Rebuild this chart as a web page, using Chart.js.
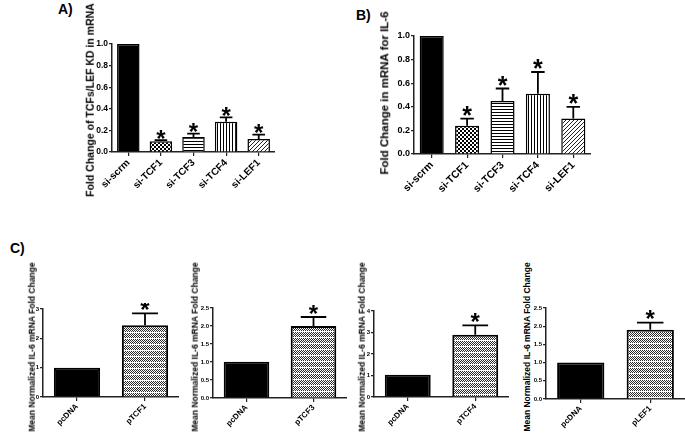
<!DOCTYPE html>
<html><head><meta charset="utf-8">
<script src="https://cdn.jsdelivr.net/npm/chart.js@4.4.0/dist/chart.umd.min.js"></script>
<style>
html,body{margin:0;padding:0;background:#fff;width:685px;height:443px;overflow:hidden;position:relative;font-family:"Liberation Sans",Arial,sans-serif;}
.lbl{position:absolute;font-weight:bold;font-size:14px;line-height:14px;color:#000;}
.yt{position:absolute;transform:translate(-50%,-50%) rotate(-90deg);white-space:nowrap;font-weight:bold;line-height:1;color:#000;}
</style></head><body>
<div class="lbl" style="left:58px;top:2px">A)</div>
<div class="lbl" style="left:356px;top:8px">B)</div>
<div class="lbl" style="left:10px;top:241px">C)</div>
<script>
// ---------- DATA ----------
const catsA = ['si-scrm','si-TCF1','si-TCF3','si-TCF4','si-LEF1'];
const valsA = [1.0, 0.10, 0.14, 0.28, 0.12];
const errA  = [0, 0.01, 0.03, 0.04, 0.04];
const starA = [false, true, true, true, true];

const catsB = ['si-scrm','si-TCF1','si-TCF3','si-TCF4','si-LEF1'];
const valsB = [1.0, 0.24, 0.45, 0.51, 0.30];
const errB  = [0, 0.06, 0.105, 0.185, 0.10];
const starB = [false, true, true, true, true];

const catsC1 = ['pcDNA','pTCF1'];
const valsC1 = [1.0, 2.45];
const errC1  = [0, 0.40];

const catsC2 = ['pcDNA','pTCF3'];
const valsC2 = [1.01, 2.0];
const errC2  = [0, 0.25];

const catsC3 = ['pcDNA','pTCF4'];
const valsC3 = [1.03, 2.9];
const errC3  = [0, 0.43];

const catsC4 = ['pcDNA','pLEF1'];
const valsC4 = [1.0, 1.9];
const errC4  = [0, 0.2];
const starC = [false, true];

const titleA = 'Fold Change of TCFs/LEF KD in mRNA';
const titleB = 'Fold Change in mRNA for IL-6';
const titleC = 'Mean Normalized IL-6 mRNA Fold Change';

// ---------- PATTERNS ----------
function pat(w, h, draw){
  const c = document.createElement('canvas'); c.width = w; c.height = h;
  const g = c.getContext('2d'); g.fillStyle = '#fff'; g.fillRect(0,0,w,h); draw(g);
  return g.createPattern(c, 'repeat');
}
const pChecker = pat(4,4,g=>{g.fillStyle='#000';g.fillRect(0,0,2,2);g.fillRect(2,2,2,2);});
const pHoriz = pat(3,3,g=>{g.fillStyle='#000';g.fillRect(0,0,3,1);});
const pVert = pat(3,3,g=>{g.fillStyle='#000';g.fillRect(0,0,1,3);});
const pDiag = pat(4,4,g=>{g.strokeStyle='#222';g.lineWidth=1;g.beginPath();g.moveTo(-1,5);g.lineTo(5,-1);g.moveTo(-1,1);g.lineTo(1,-1);g.moveTo(3,5);g.lineTo(5,3);g.stroke();});
const pDots = pat(2,6,g=>{g.fillStyle='#2a2a2a';for(let y=0;y<5;y++){g.fillRect((y%2),y,1,1);}});
const fillsAB = ['#000', pChecker, pHoriz, pVert, pDiag];
const fillsC = ['#000', pDots];

// ---------- PLUGIN: error bars + asterisks ----------
const errStar = {
  id:'errStar',
  afterDatasetsDraw(chart, args, o){
    const ctx = chart.ctx, y = chart.scales.y, ds = chart.data.datasets[0];
    const meta = chart.getDatasetMeta(0);
    ctx.save();
    meta.data.forEach((bar,i)=>{
      const v = ds.data[i], e = o.errors[i];
      const yTop = y.getPixelForValue(v), yCap = y.getPixelForValue(v+e);
      if (e > 0){
        const cw = bar.width*0.28;
        ctx.strokeStyle = '#000'; ctx.lineWidth = o.lw;
        ctx.beginPath();
        ctx.moveTo(bar.x, yTop); ctx.lineTo(bar.x, yCap);
        ctx.moveTo(bar.x-cw, yCap); ctx.lineTo(bar.x+cw, yCap);
        ctx.stroke();
      }
      if (o.stars[i]){
        ctx.fillStyle = '#000';
        ctx.font = 'bold ' + o.starSize + 'px "Liberation Sans", Arial, sans-serif';
        ctx.textAlign = 'center'; ctx.textBaseline = 'alphabetic';
        ctx.fillText('*', bar.x, yCap - o.starGap + 0.57*o.starSize);
      }
    });
    ctx.restore();
  }
};

// ---------- PANEL BUILDER ----------
function panel(c){
  const left = c.axisX - c.yW;
  const top = c.topY - c.padTop;
  const w = Math.round(c.rightX - left);
  const h = Math.round(c.bottomY + c.xH - top);
  const cv = document.createElement('canvas');
  cv.width = w; cv.height = h;
  cv.style.cssText = 'position:absolute;left:'+left+'px;top:'+top+'px;width:'+w+'px;height:'+h+'px';
  document.body.appendChild(cv);
  const t = document.createElement('div');
  t.className = 'yt'; t.textContent = c.title;
  t.style.left = c.titleX + 'px'; t.style.top = c.titleY + 'px'; t.style.fontSize = c.titleSize + 'px';
  document.body.appendChild(t);
  new Chart(cv, {
    type:'bar',
    data:{labels:c.labels, datasets:[{data:c.values, backgroundColor:c.fills, borderColor:'#000',
      borderWidth:c.bw, barPercentage:c.barPct, categoryPercentage:1}]},
    options:{
      responsive:false, animation:false, devicePixelRatio:1,
      layout:{padding:{top:c.padTop, right:0, left:0, bottom:0}},
      plugins:{legend:{display:false}, tooltip:{enabled:false},
        errStar:{errors:c.errors, stars:c.stars, lw:c.elw, starSize:c.starSize, starGap:c.starGap}},
      scales:{
        x:{
          grid:{display:true, drawOnChartArea:false, offset:false, tickLength:c.xTick, color:'#222', lineWidth:1.2},
          border:{display:true, color:'#222', width:1.5},
          ticks:{minRotation:45, maxRotation:45, autoSkip:false, color:'#000', padding:1,
            font:{family:'"Liberation Sans", Arial, sans-serif', size:c.xFont, weight:'bold'}},
          afterFit(s){ s.height = c.xH; }
        },
        y:{
          min:0, max:c.max,
          grid:{display:true, drawOnChartArea:false, tickLength:3, color:'#222', lineWidth:1.2},
          border:{display:true, color:'#222', width:1.5},
          ticks:{stepSize:c.step, color:'#000', padding:1,
            font:{family:'"Liberation Sans", Arial, sans-serif', size:c.yFont, weight:'bold'},
            callback:v=>v.toFixed(c.dec)},
          afterFit(s){ s.width = c.yW; }
        }
      }
    },
    plugins:[errStar]
  });
}

panel({labels:catsA, values:valsA, errors:errA, stars:starA, fills:fillsAB, title:titleA,
  titleX:90, titleY:100, titleSize:10.5, axisX:112, yW:24, topY:44, bottomY:152, rightX:275, padTop:8, xH:52,
  max:1.0, step:0.2, dec:1, yFont:8.5, xFont:10, xTick:4, bw:1.5, barPct:0.69, elw:1.8, starSize:24, starGap:7});
panel({labels:catsB, values:valsB, errors:errB, stars:starB, fills:fillsAB, title:titleB,
  titleX:385, titleY:93, titleSize:11.5, axisX:414, yW:24, topY:36, bottomY:154, rightX:590.5, padTop:8, xH:55,
  max:1.0, step:0.2, dec:1, yFont:9, xFont:10.5, xTick:4, bw:1.5, barPct:0.68, elw:1.8, starSize:25, starGap:9});
panel({labels:catsC1, values:valsC1, errors:errC1, stars:starC, fills:fillsC, title:titleC,
  titleX:32, titleY:347, titleSize:8.5, axisX:43, yW:8, topY:309, bottomY:397, rightX:179, padTop:6, xH:42,
  max:3, step:1, dec:0, yFont:6, xFont:8, xTick:4, bw:2, barPct:0.68, elw:1.8, starSize:24, starGap:9});
panel({labels:catsC2, values:valsC2, errors:errC2, stars:starC, fills:fillsC, title:titleC,
  titleX:195, titleY:347, titleSize:8.5, axisX:213, yW:14, topY:308, bottomY:398, rightX:347, padTop:6, xH:42,
  max:2.5, step:0.5, dec:1, yFont:6, xFont:8, xTick:4, bw:2, barPct:0.68, elw:1.8, starSize:24, starGap:9});
panel({labels:catsC3, values:valsC3, errors:errC3, stars:starC, fills:fillsC, title:titleC,
  titleX:362, titleY:347, titleSize:8.5, axisX:374, yW:8, topY:311, bottomY:397, rightX:509, padTop:6, xH:42,
  max:4, step:1, dec:0, yFont:6, xFont:8, xTick:4, bw:2, barPct:0.68, elw:1.8, starSize:24, starGap:9});
panel({labels:catsC4, values:valsC4, errors:errC4, stars:starC, fills:fillsC, title:titleC,
  titleX:527, titleY:347, titleSize:8.5, axisX:546, yW:14, topY:308, bottomY:399, rightX:685, padTop:6, xH:42,
  max:2.5, step:0.5, dec:1, yFont:6, xFont:8, xTick:4, bw:2, barPct:0.68, elw:1.8, starSize:24, starGap:9});
</script>
</body></html>
